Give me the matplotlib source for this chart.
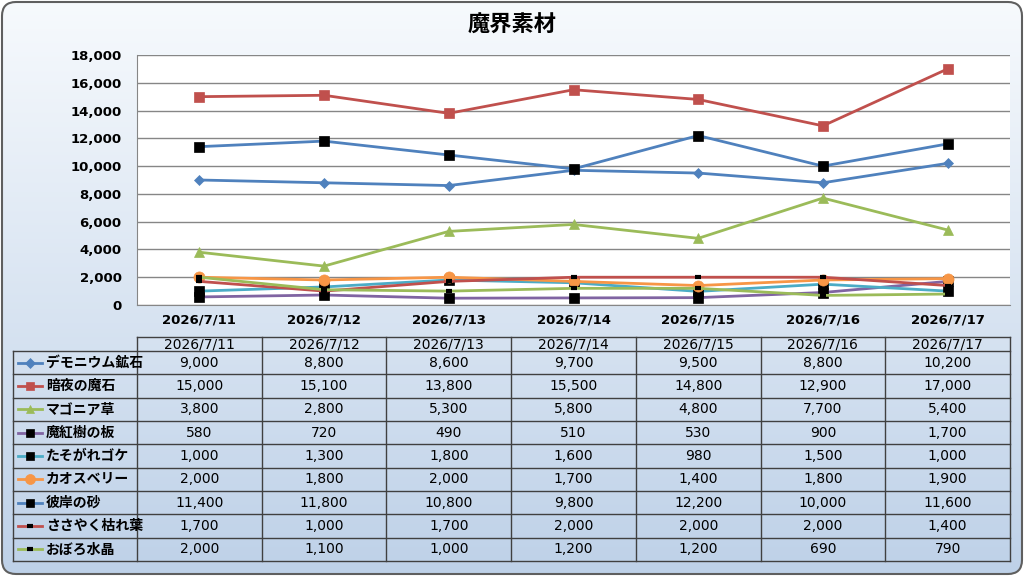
import numpy as np
import matplotlib
matplotlib.use("Agg")
import matplotlib.pyplot as plt
from matplotlib.patches import FancyBboxPatch
from matplotlib.ticker import FuncFormatter

plt.rcParams['font.family'] = ['DejaVu Sans', 'Noto Sans CJK JP']
JP = ['Noto Sans CJK JP', 'DejaVu Sans']

# data
dates = ["2026/7/11", "2026/7/12", "2026/7/13", "2026/7/14", "2026/7/15", "2026/7/16", "2026/7/17"]
names = ["デモニウム鉱石", "暗夜の魔石", "マゴニア草", "魔紅樹の板", "たそがれゴケ",
         "カオスベリー", "彼岸の砂", "ささやく枯れ葉", "おぼろ水晶"]
demonium = [9000, 8800, 8600, 9700, 9500, 8800, 10200]
anya = [15000, 15100, 13800, 15500, 14800, 12900, 17000]
magonia = [3800, 2800, 5300, 5800, 4800, 7700, 5400]
makoju = [580, 720, 490, 510, 530, 900, 1700]
tasogare = [1000, 1300, 1800, 1600, 980, 1500, 1000]
chaos = [2000, 1800, 2000, 1700, 1400, 1800, 1900]
higan = [11400, 11800, 10800, 9800, 12200, 10000, 11600]
sasayaku = [1700, 1000, 1700, 2000, 2000, 2000, 1400]
oboro = [2000, 1100, 1000, 1200, 1200, 690, 790]
series = [demonium, anya, magonia, makoju, tasogare, chaos, higan, sasayaku, oboro]

# style per series: colour, marker, marker colour, marker size
styles = [
    ("#4F81BD", "D", "#4F81BD", 5.5),
    ("#C0504D", "s", "#C0504D", 6.5),
    ("#9BBB59", "^", "#9BBB59", 7),
    ("#8064A2", "s", "black", 7),
    ("#4BACC6", "s", "black", 7),
    ("#F79646", "o", "#F79646", 8),
    ("#4F81BD", "s", "black", 7),
    ("#C0504D", "_", "black", 5),
    ("#9BBB59", "_", "black", 5),
]

W, H = 1024, 576
fig = plt.figure(figsize=(W / 100, H / 100), dpi=100)
fig.patch.set_facecolor("white")

def fx(x):
    return x / W

def fy(y):
    return 1 - y / H

# background with gradient and rounded border
bg = fig.add_axes([0, 0, 1, 1])
bg.set_xlim(0, W)
bg.set_ylim(H, 0)
bg.axis("off")
top = np.array([247, 250, 253]) / 255
bot = np.array([190, 209, 232]) / 255
t = np.linspace(0, 1, 256)[:, None]
grad = (top[None, :] * (1 - t) + bot[None, :] * t)[:, None, :]
im = bg.imshow(grad, extent=[0, W, H, 0], aspect="auto", zorder=0)
box = FancyBboxPatch((2, 2), W - 4, H - 4, boxstyle="round,pad=0,rounding_size=14",
                     fc="none", ec="#5f5f5f", lw=1.5, zorder=2)
bg.add_patch(box)
im.set_clip_path(box)

fig.text(0.5, fy(25), "魔界素材", ha="center", va="center", fontsize=16,
         fontweight="bold", family=JP)

# line chart
pl, pr, pt, pb = 137, 1010, 55, 305
ax = fig.add_axes([fx(pl), fy(pb), fx(pr - pl), (pb - pt) / H])
x = np.arange(len(dates))
for vals, (c, m, mc, ms) in zip(series, styles):
    mew = 3 if m == "_" else 0.5
    ax.plot(x, vals, color=c, lw=2, marker=m, markersize=ms, markerfacecolor=mc,
            markeredgecolor=mc, markeredgewidth=mew, clip_on=False)
ax.set_xlim(-0.5, len(dates) - 0.5)
ax.set_ylim(0, 18000)
ax.set_yticks(np.arange(0, 18001, 2000))
ax.yaxis.set_major_formatter(FuncFormatter(lambda v, p: f"{int(v):,}"))
ax.set_xticks(x)
ax.set_xticklabels(dates)
ax.tick_params(axis="both", length=0, labelsize=9.5, pad=11)
ax.tick_params(axis="x", pad=6)
for lab in ax.get_xticklabels() + ax.get_yticklabels():
    lab.set_fontweight("bold")
ax.grid(axis="y", color="#868686", lw=1)
ax.set_axisbelow(True)
for s in ["top", "right"]:
    ax.spines[s].set_visible(False)
ax.spines["left"].set_color("#868686")
ax.spines["bottom"].set_color("#868686")

# data table
tl, tr = 13, pr
hy0, hy1 = 337, 351
ry1 = 561
rh = (ry1 - hy1) / len(names)
cw = (pr - pl) / len(dates)
tab = fig.add_axes([0, 0, 1, 1], facecolor="none")
tab.set_xlim(0, W)
tab.set_ylim(H, 0)
tab.axis("off")
lc = "#404040"
# header row
tab.plot([pl, tr], [hy0, hy0], color=lc, lw=1)
for j in range(len(dates) + 1):
    tab.plot([pl + j * cw] * 2, [hy0, ry1], color=lc, lw=1)
    if j < len(dates):
        tab.text(pl + (j + 0.5) * cw, (hy0 + hy1) / 2 + 0.5, dates[j], ha="center", va="center",
                 fontsize=10)
tab.plot([tl, tl], [hy1, ry1], color=lc, lw=1)
for i in range(len(names) + 1):
    tab.plot([tl, tr], [hy1 + i * rh] * 2, color=lc, lw=1)
for i, (name, vals, (c, m, mc, ms)) in enumerate(zip(names, series, styles)):
    yc = hy1 + (i + 0.5) * rh
    tab.plot([18, 42], [yc, yc], color=c, lw=2)
    mew = 3 if m == "_" else 0.5
    tab.plot([30], [yc], marker=m, markersize=ms * 0.9, markerfacecolor=mc,
             markeredgecolor=mc, markeredgewidth=mew, color=c)
    tab.text(46, yc, name, ha="left", va="center", fontsize=10, fontweight="bold", family=JP)
    for j, v in enumerate(vals):
        tab.text(pl + (j + 0.5) * cw, yc, f"{v:,}", ha="center", va="center", fontsize=10)

fig.savefig("out.png", dpi=100)
